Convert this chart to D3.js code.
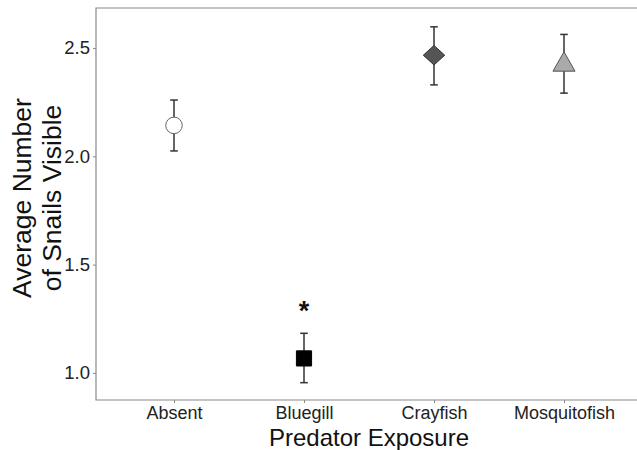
<!DOCTYPE html>
<html><head><meta charset="utf-8">
<script src="https://cdn.jsdelivr.net/npm/d3@7"></script>
<style>body{margin:0;background:#fff}svg{display:block}text{font-family:"Liberation Sans",Arial,sans-serif}</style>
</head><body>
<svg id="c" width="637" height="450"></svg>
<script>
const categories = ["Absent", "Bluegill", "Crayfish", "Mosquitofish"];
const means = [2.143, 1.067, 2.467, 2.438];
const upper = [2.260, 1.183, 2.598, 2.563];
const lower = [2.025, 0.955, 2.330, 2.292];
const shapes = ["circle", "square", "diamond", "triangle"];
const fills = ["#ffffff", "#000000", "#555555", "#aaaaaa"];
const strokes = ["#666666", "#000000", "#333333", "#555555"];
const yTicks = [1.0, 1.5, 2.0, 2.5];
const significant = [false, true, false, false];

const svg = d3.select("#c");
const L = 96, T = 8, B = 400, R = 642;
const x = d3.scalePoint().domain(categories).range([L, R]).padding(0.6);
const y = d3.scaleLinear().domain([0.875, 2.685]).range([B, T]);
const FONT = "Liberation Sans, Arial, sans-serif";

svg.append("path").attr("d", `M637,${T}H${L}V${B}H637`).attr("fill", "none").attr("stroke", "#8a8a8a").attr("stroke-width", 1.2);

const yAxis = svg.append("g").attr("transform", `translate(${L},0)`)
  .call(d3.axisLeft(y).tickValues(yTicks).tickFormat(d3.format(".1f")).tickSize(3).tickPadding(3));
yAxis.select(".domain").remove();
yAxis.selectAll("line").attr("stroke", "#8a8a8a");
yAxis.selectAll("text").attr("font-size", 18.5).attr("fill", "#222").attr("font-family", FONT);

const xAxis = svg.append("g").attr("transform", `translate(0,${B})`)
  .call(d3.axisBottom(x).tickSize(3).tickPadding(3));
xAxis.select(".domain").remove();
xAxis.selectAll("line").attr("stroke", "#8a8a8a");
xAxis.selectAll("text").attr("font-size", 18).attr("fill", "#222").attr("font-family", FONT);

const data = categories.map((c, i) => ({c, m: means[i], hi: upper[i], lo: lower[i], s: shapes[i], f: fills[i], st: strokes[i], sig: significant[i]}));
const eb = svg.append("g");
data.forEach(d => {
  const cx = x(d.c);
  eb.append("line").attr("x1", cx).attr("x2", cx).attr("y1", y(d.hi)).attr("y2", y(d.lo)).attr("stroke", "#333").attr("stroke-width", 1.5);
  [d.hi, d.lo].forEach(v => eb.append("line").attr("x1", cx - 3.8).attr("x2", cx + 3.8).attr("y1", y(v)).attr("y2", y(v)).attr("stroke", "#333").attr("stroke-width", 1.5));
});

const diamondSym = {draw(ctx, size) { const w = Math.sqrt(size) * 0.55, h = Math.sqrt(size) * 0.5;
  ctx.moveTo(0, -h); ctx.lineTo(w, 0); ctx.lineTo(0, h); ctx.lineTo(-w, 0); ctx.closePath(); }};
const triSym = {draw(ctx, size) { const w = Math.sqrt(size) * 0.57, h = Math.sqrt(size) * 0.5;
  ctx.moveTo(0, -h); ctx.lineTo(w, h); ctx.lineTo(-w, h); ctx.closePath(); }};
const sym = {circle: d3.symbolCircle, square: d3.symbolSquare, diamond: diamondSym, triangle: triSym};
const size = {circle: 215, square: 230, diamond: 380, triangle: 375};
data.forEach(d => {
  svg.append("path").attr("d", d3.symbol().type(sym[d.s]).size(size[d.s])())
    .attr("transform", `translate(${x(d.c)},${y(d.m)})`)
    .attr("fill", d.f).attr("stroke", d.st).attr("stroke-width", 1);
  if (d.sig) {
    svg.append("text").attr("x", x(d.c)).attr("y", y(d.hi) - 13).attr("text-anchor", "middle")
      .attr("font-size", 27).attr("font-weight", "bold").attr("fill", "#111").text("*");
  }
});

svg.append("text").attr("x", (L + R) / 2).attr("y", 446).attr("text-anchor", "middle").attr("font-size", 24).attr("fill", "#111").text("Predator Exposure");
const yt = svg.append("text").attr("transform", "translate(0,198) rotate(-90)").attr("text-anchor", "middle").attr("font-size", 26.5).attr("fill", "#111");
yt.append("tspan").attr("x", 0).attr("y", 31).text("Average Number");
yt.append("tspan").attr("x", 0).attr("y", 61).text("of Snails Visible");
</script>
</body></html>
